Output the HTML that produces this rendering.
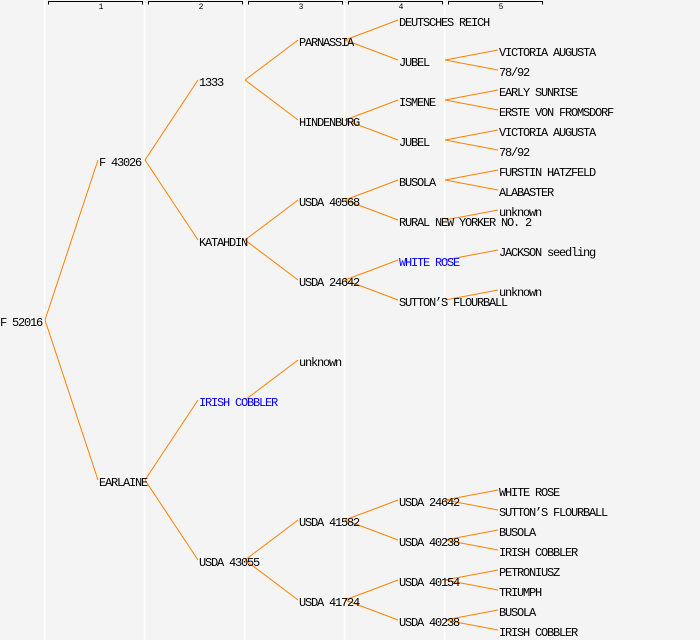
<!DOCTYPE html>
<html><head><meta charset="utf-8"><style>
html,body{margin:0;padding:0;background:#f4f4f4;}
svg{display:block;}
text{font-family:"Liberation Mono",monospace;font-size:12px;letter-spacing:-1.2px;fill:#000;}
.b{fill:#0000ff;}
.h{font-size:8px;letter-spacing:0;text-anchor:middle;}
line.e{stroke:#ff8000;stroke-width:1;}
</style></head><body>
<svg width="700" height="640" viewBox="0 0 700 640" xmlns="http://www.w3.org/2000/svg">
<rect width="700" height="640" fill="#f4f4f4"/>
<g stroke="#ffffff" stroke-width="1.5">
<line x1="44.5" y1="0" x2="44.5" y2="640"/>
<line x1="144.5" y1="0" x2="144.5" y2="640"/>
<line x1="244.5" y1="0" x2="244.5" y2="640"/>
<line x1="344.5" y1="0" x2="344.5" y2="640"/>
<line x1="444.5" y1="0" x2="444.5" y2="640"/>
</g>
<g stroke="#000" stroke-width="1" fill="none">
<path d="M48.5 4.5V1.5H142.5V4.5"/>
<path d="M148.5 4.5V1.5H242.5V4.5"/>
<path d="M248.5 4.5V1.5H342.5V4.5"/>
<path d="M348.5 4.5V1.5H442.5V4.5"/>
<path d="M448.5 4.5V1.5H542.5V4.5"/>
</g>
<text class="h" x="101" y="9">1</text>
<text class="h" x="201" y="9">2</text>
<text class="h" x="301" y="9">3</text>
<text class="h" x="401" y="9">4</text>
<text class="h" x="501" y="9">5</text>
<g>
<line class="e" x1="45" y1="320" x2="98" y2="160"/><line class="e" x1="45" y1="320" x2="98" y2="480"/>
<line class="e" x1="145" y1="160" x2="198" y2="80"/><line class="e" x1="145" y1="160" x2="198" y2="240"/>
<line class="e" x1="145" y1="480" x2="198" y2="400"/><line class="e" x1="145" y1="480" x2="198" y2="560"/>
<line class="e" x1="245" y1="80" x2="298" y2="40"/><line class="e" x1="245" y1="80" x2="298" y2="120"/>
<line class="e" x1="245" y1="240" x2="298" y2="200"/><line class="e" x1="245" y1="240" x2="298" y2="280"/>
<line class="e" x1="245" y1="400" x2="298" y2="360"/>
<line class="e" x1="245" y1="560" x2="298" y2="520"/><line class="e" x1="245" y1="560" x2="298" y2="600"/>
<line class="e" x1="345" y1="40" x2="398" y2="20"/><line class="e" x1="345" y1="40" x2="398" y2="60"/>
<line class="e" x1="345" y1="120" x2="398" y2="100"/><line class="e" x1="345" y1="120" x2="398" y2="140"/>
<line class="e" x1="345" y1="200" x2="398" y2="180"/><line class="e" x1="345" y1="200" x2="398" y2="220"/>
<line class="e" x1="345" y1="280" x2="398" y2="260"/><line class="e" x1="345" y1="280" x2="398" y2="300"/>
<line class="e" x1="345" y1="520" x2="398" y2="500"/><line class="e" x1="345" y1="520" x2="398" y2="540"/>
<line class="e" x1="345" y1="600" x2="398" y2="580"/><line class="e" x1="345" y1="600" x2="398" y2="620"/>
<line class="e" x1="445" y1="60" x2="498" y2="50"/><line class="e" x1="445" y1="60" x2="498" y2="70"/>
<line class="e" x1="445" y1="100" x2="498" y2="90"/><line class="e" x1="445" y1="100" x2="498" y2="110"/>
<line class="e" x1="445" y1="140" x2="498" y2="130"/><line class="e" x1="445" y1="140" x2="498" y2="150"/>
<line class="e" x1="445" y1="180" x2="498" y2="170"/><line class="e" x1="445" y1="180" x2="498" y2="190"/>
<line class="e" x1="445" y1="220" x2="498" y2="210"/>
<line class="e" x1="445" y1="260" x2="498" y2="250"/>
<line class="e" x1="445" y1="300" x2="498" y2="290"/>
<line class="e" x1="445" y1="500" x2="498" y2="490"/><line class="e" x1="445" y1="500" x2="498" y2="510"/>
<line class="e" x1="445" y1="540" x2="498" y2="530"/><line class="e" x1="445" y1="540" x2="498" y2="550"/>
<line class="e" x1="445" y1="580" x2="498" y2="570"/><line class="e" x1="445" y1="580" x2="498" y2="590"/>
<line class="e" x1="445" y1="620" x2="498" y2="610"/><line class="e" x1="445" y1="620" x2="498" y2="630"/>
</g>
<g>
<text x="0" y="326">F 52016</text>
<text x="99" y="166">F 43026</text>
<text x="99" y="486">EARLAINE</text>
<text x="199" y="86">1333</text>
<text x="199" y="246">KATAHDIN</text>
<text x="199" y="406" class="b">IRISH COBBLER</text>
<text x="199" y="566">USDA 43055</text>
<text x="299" y="46">PARNASSIA</text>
<text x="299" y="126">HINDENBURG</text>
<text x="299" y="206">USDA 40568</text>
<text x="299" y="286">USDA 24642</text>
<text x="299" y="366">unknown</text>
<text x="299" y="526">USDA 41582</text>
<text x="299" y="606">USDA 41724</text>
<text x="399" y="26">DEUTSCHES REICH</text>
<text x="399" y="66">JUBEL</text>
<text x="399" y="106">ISMENE</text>
<text x="399" y="146">JUBEL</text>
<text x="399" y="186">BUSOLA</text>
<text x="399" y="226">RURAL NEW YORKER NO. 2</text>
<text x="399" y="266" class="b">WHITE ROSE</text>
<text x="399" y="306">SUTTON’S FLOURBALL</text>
<text x="399" y="506">USDA 24642</text>
<text x="399" y="546">USDA 40238</text>
<text x="399" y="586">USDA 40154</text>
<text x="399" y="626">USDA 40238</text>
<text x="499" y="56">VICTORIA AUGUSTA</text>
<text x="499" y="76">78/92</text>
<text x="499" y="96">EARLY SUNRISE</text>
<text x="499" y="116">ERSTE VON FROMSDORF</text>
<text x="499" y="136">VICTORIA AUGUSTA</text>
<text x="499" y="156">78/92</text>
<text x="499" y="176">FURSTIN HATZFELD</text>
<text x="499" y="196">ALABASTER</text>
<text x="499" y="216">unknown</text>
<text x="499" y="256">JACKSON seedling</text>
<text x="499" y="296">unknown</text>
<text x="499" y="496">WHITE ROSE</text>
<text x="499" y="516">SUTTON’S FLOURBALL</text>
<text x="499" y="536">BUSOLA</text>
<text x="499" y="556">IRISH COBBLER</text>
<text x="499" y="576">PETRONIUSZ</text>
<text x="499" y="596">TRIUMPH</text>
<text x="499" y="616">BUSOLA</text>
<text x="499" y="636">IRISH COBBLER</text>
</g>
</svg>
</body></html>
